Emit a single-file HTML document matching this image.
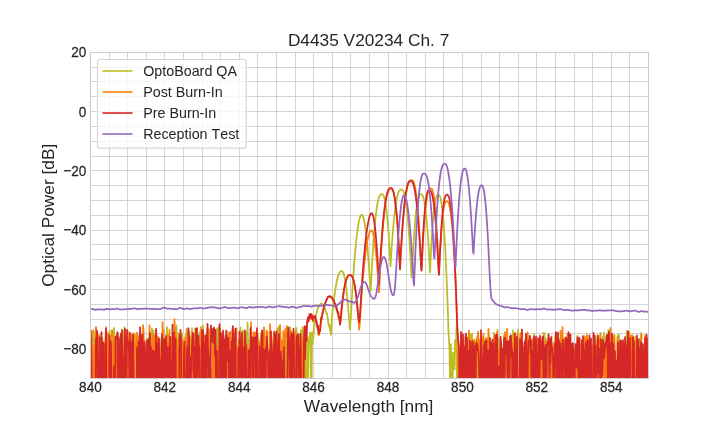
<!DOCTYPE html><html><head><meta charset="utf-8"><style>html,body{margin:0;padding:0;background:#fff}body{width:720px;height:432px;overflow:hidden;font-family:"Liberation Sans",sans-serif}</style></head><body><svg width="720" height="432" viewBox="0 0 720 432" style="display:block;will-change:transform">
<rect width="720" height="432" fill="#fff"/>
<defs><clipPath id="c"><rect x="90.5" y="52.3" width="558.0" height="326.0"/></clipPath></defs>
<path d="M90.50 52.5V378.5M109.50 52.5V378.5M127.50 52.5V378.5M146.50 52.5V378.5M164.50 52.5V378.5M183.50 52.5V378.5M202.50 52.5V378.5M220.50 52.5V378.5M239.50 52.5V378.5M257.50 52.5V378.5M276.50 52.5V378.5M295.50 52.5V378.5M313.50 52.5V378.5M332.50 52.5V378.5M350.50 52.5V378.5M369.50 52.5V378.5M388.50 52.5V378.5M406.50 52.5V378.5M425.50 52.5V378.5M443.50 52.5V378.5M462.50 52.5V378.5M481.50 52.5V378.5M499.50 52.5V378.5M518.50 52.5V378.5M536.50 52.5V378.5M555.50 52.5V378.5M574.50 52.5V378.5M592.50 52.5V378.5M611.50 52.5V378.5M629.50 52.5V378.5M648.50 52.5V378.5M90.5 52.50H648.5M90.5 67.50H648.5M90.5 81.50H648.5M90.5 96.50H648.5M90.5 111.50H648.5M90.5 126.50H648.5M90.5 141.50H648.5M90.5 156.50H648.5M90.5 170.50H648.5M90.5 185.50H648.5M90.5 200.50H648.5M90.5 215.50H648.5M90.5 230.50H648.5M90.5 244.50H648.5M90.5 259.50H648.5M90.5 274.50H648.5M90.5 289.50H648.5M90.5 304.50H648.5M90.5 319.50H648.5M90.5 333.50H648.5M90.5 348.50H648.5M90.5 363.50H648.5M90.5 378.50H648.5" stroke="#cccccc" stroke-width="0.85" fill="none"/>
<g clip-path="url(#c)" fill="none" stroke-width="1.75" stroke-linejoin="round">
<path d="M90.5 331.1L91.0 400.0L91.5 400.0L92.0 400.0L92.5 338.7L93.0 400.0L93.5 330.2L94.0 400.0L94.5 349.8L95.0 400.0L95.5 332.4L96.0 400.0L96.5 400.0L97.0 400.0L97.5 335.5L98.0 400.0L98.5 400.0L99.0 400.0L99.5 365.0L100.0 343.2L100.5 400.0L101.0 335.3L101.5 338.2L102.0 344.9L102.5 338.2L103.0 400.0L103.5 400.0L104.0 400.0L104.5 400.0L105.0 344.3L105.5 400.0L106.0 400.0L106.5 400.0L107.0 400.0L107.5 400.0L108.0 372.6L108.5 400.0L109.0 352.8L109.5 330.8L110.0 340.4L110.5 400.0L111.0 400.0L111.5 400.0L112.0 330.5L112.5 364.1L113.0 400.0L113.5 354.7L114.0 327.9L114.5 358.6L115.0 342.5L115.5 350.3L116.0 400.0L116.5 400.0L117.0 400.0L117.5 400.0L118.0 343.1L118.5 339.0L119.0 337.7L119.5 350.8L120.0 338.3L120.5 400.0L121.0 334.2L121.5 344.6L122.0 400.0L122.5 345.1L123.0 400.0L123.5 335.4L124.0 331.8L124.5 327.3L125.0 400.0L125.5 400.0L126.0 400.0L126.5 356.2L127.0 338.4L127.5 349.8L128.0 400.0L128.5 400.0L129.0 339.1L129.5 352.9L130.0 340.0L130.5 400.0L131.0 400.0L131.5 354.8L132.0 347.0L132.5 354.3L133.0 358.6L133.5 400.0L134.0 347.9L134.5 358.4L135.0 335.4L135.5 334.6L136.0 354.9L136.5 400.0L137.0 400.0L137.5 346.6L138.0 361.6L138.5 400.0L139.0 364.7L139.5 400.0L140.0 341.0L140.5 400.0L141.0 334.4L141.5 347.1L142.0 342.9L142.5 400.0L143.0 355.7L143.5 340.3L144.0 400.0L144.5 400.0L145.0 365.9L145.5 400.0L146.0 349.7L146.5 338.7L147.0 400.0L147.5 348.6L148.0 400.0L148.5 378.8L149.0 400.0L149.5 335.4L150.0 347.0L150.5 375.0L151.0 400.0L151.5 333.8L152.0 328.5L152.5 400.0L153.0 334.2L153.5 330.8L154.0 349.0L154.5 400.0L155.0 338.5L155.5 400.0L156.0 400.0L156.5 400.0L157.0 343.7L157.5 339.5L158.0 400.0L158.5 344.3L159.0 400.0L159.5 339.3L160.0 364.3L160.5 400.0L161.0 400.0L161.5 338.4L162.0 340.1L162.5 344.1L163.0 357.3L163.5 361.5L164.0 342.3L164.5 352.7L165.0 341.2L165.5 400.0L166.0 400.0L166.5 336.2L167.0 327.1L167.5 346.1L168.0 400.0L168.5 400.0L169.0 400.0L169.5 367.6L170.0 400.0L170.5 400.0L171.0 400.0L171.5 352.0L172.0 400.0L172.5 344.8L173.0 400.0L173.5 336.8L174.0 353.4L174.5 327.1L175.0 400.0L175.5 400.0L176.0 337.9L176.5 325.3L177.0 400.0L177.5 364.5L178.0 400.0L178.5 333.2L179.0 400.0L179.5 341.2L180.0 400.0L180.5 400.0L181.0 349.6L181.5 344.6L182.0 333.5L182.5 400.0L183.0 400.0L183.5 343.3L184.0 352.2L184.5 350.7L185.0 400.0L185.5 334.8L186.0 347.9L186.5 328.8L187.0 335.3L187.5 341.5L188.0 400.0L188.5 342.5L189.0 346.5L189.5 339.1L190.0 336.1L190.5 400.0L191.0 338.9L191.5 400.0L192.0 328.4L192.5 400.0L193.0 400.0L193.5 400.0L194.0 400.0L194.5 400.0L195.0 328.4L195.5 400.0L196.0 400.0L196.5 335.3L197.0 400.0L197.5 400.0L198.0 338.1L198.5 342.1L199.0 400.0L199.5 332.4L200.0 357.7L200.5 330.7L201.0 344.5L201.5 331.2L202.0 358.9L202.5 400.0L203.0 325.6L203.5 400.0L204.0 400.0L204.5 400.0L205.0 400.0L205.5 352.1L206.0 353.8L206.5 341.4L207.0 329.4L207.5 400.0L208.0 400.0L208.5 400.0L209.0 400.0L209.5 400.0L210.0 338.8L210.5 400.0L211.0 400.0L211.5 370.3L212.0 400.0L212.5 400.0L213.0 341.1L213.5 342.1L214.0 400.0L214.5 329.3L215.0 400.0L215.5 400.0L216.0 400.0L216.5 400.0L217.0 328.4L217.5 347.9L218.0 400.0L218.5 327.7L219.0 342.7L219.5 346.1L220.0 400.0L220.5 359.1L221.0 400.0L221.5 339.2L222.0 400.0L222.5 357.3L223.0 334.2L223.5 350.4L224.0 351.2L224.5 350.7L225.0 400.0L225.5 338.6L226.0 331.2L226.5 339.7L227.0 337.9L227.5 400.0L228.0 400.0L228.5 400.0L229.0 333.9L229.5 400.0L230.0 332.4L230.5 400.0L231.0 400.0L231.5 359.8L232.0 337.4L232.5 362.6L233.0 353.3L233.5 367.5L234.0 354.9L234.5 400.0L235.0 360.9L235.5 400.0L236.0 385.8L236.5 344.6L237.0 400.0L237.5 400.0L238.0 400.0L238.5 346.4L239.0 339.2L239.5 400.0L240.0 342.6L240.5 327.5L241.0 400.0L241.5 400.0L242.0 400.0L242.5 400.0L243.0 330.5L243.5 367.9L244.0 400.0L244.5 341.9L245.0 400.0L245.5 335.0L246.0 349.6L246.5 332.4L247.0 400.0L247.5 322.7L248.0 338.6L248.5 341.3L249.0 383.0L249.5 400.0L250.0 400.0L250.5 400.0L251.0 400.0L251.5 350.4L252.0 400.0L252.5 341.9L253.0 336.9L253.5 400.0L254.0 334.2L254.5 400.0L255.0 334.6L255.5 345.8L256.0 334.9L256.5 400.0L257.0 400.0L257.5 331.8L258.0 400.0L258.5 400.0L259.0 400.0L259.5 400.0L260.0 400.0L260.5 400.0L261.0 333.3L261.5 400.0L262.0 349.0L262.5 400.0L263.0 368.5L263.5 400.0L264.0 400.0L264.5 345.2L265.0 400.0L265.5 336.2L266.0 337.3L266.5 400.0L267.0 338.8L267.5 400.0L268.0 400.0L268.5 355.8L269.0 400.0L269.5 400.0L270.0 400.0L270.5 400.0L271.0 337.0L271.5 400.0L272.0 348.0L272.5 400.0L273.0 340.0L273.5 343.9L274.0 400.0L274.5 342.5L275.0 348.9L275.5 366.6L276.0 400.0L276.5 338.1L277.0 400.0L277.5 328.9L278.0 342.9L278.5 327.0L279.0 400.0L279.5 400.0L280.0 340.2L280.5 338.1L281.0 365.0L281.5 400.0L282.0 400.0L282.5 341.8L283.0 400.0L283.5 400.0L284.0 400.0L284.5 400.0L285.0 400.0L285.5 400.0L286.0 329.3L286.5 400.0L287.0 344.7L287.5 400.0L288.0 338.9L288.5 400.0L289.0 337.2L289.5 377.2L290.0 327.1L290.5 400.0L291.0 361.0L291.5 347.5L292.0 333.7L292.5 400.0L293.0 360.2L293.5 400.0L294.0 400.0L294.5 345.3L295.0 335.0L295.5 400.0L296.0 327.4L296.5 329.3L297.0 387.9L297.5 400.0L298.0 400.0L298.5 400.0L299.0 334.8L299.5 349.2L300.0 400.0L300.5 400.0L301.0 330.3L301.5 400.0L302.0 400.0L302.5 327.4L303.0 363.0L303.5 400.0L304.0 348.0L304.5 367.1L305.0 400.0L305.5 334.2L306.0 335.6L306.5 339.3L307.0 400.0L307.5 336.4L308.0 384.4L308.5 347.6L309.0 338.8L309.5 342.1L310.0 332.9L310.5 349.5L311.0 400.0L311.5 400.0L312.0 332.1L312.5 343.4L313.0 333.1L313.5 337.0L314.0 324.8L314.5 325.8L315.0 318.8L315.5 319.5L316.0 314.6L316.5 312.9L317.0 312.0L317.5 308.8L318.0 308.5L318.5 307.0L319.0 305.1L319.5 305.0L320.0 304.4L320.5 304.0L321.0 304.2L321.5 303.4L322.0 303.9L322.5 304.6L323.0 305.2L323.5 305.7L324.0 305.8L324.5 307.2L325.0 309.2L325.5 309.6L326.0 311.7L326.5 313.4L327.0 313.1L327.5 317.3L328.0 319.5L328.5 324.8L329.0 326.5L329.5 324.7L330.0 330.5L330.5 329.2L331.0 334.8L331.5 326.1L332.0 317.8L332.5 312.2L333.0 308.1L333.5 303.4L334.0 299.1L334.5 295.4L335.0 292.1L335.5 288.6L336.0 285.5L336.5 282.9L337.0 280.4L337.5 278.5L338.0 276.6L338.5 275.0L339.0 273.8L339.5 272.7L340.0 271.9L340.5 271.5L341.0 271.1L341.5 271.0L342.0 271.1L342.5 271.5L343.0 272.2L343.5 273.4L344.0 275.0L344.5 277.1L345.0 279.6L345.5 282.5L346.0 286.2L346.5 290.2L347.0 295.1L347.5 299.7L348.0 306.0L348.5 312.5L349.0 317.8L349.5 325.4L350.0 329.4L350.5 321.1L351.0 315.0L351.5 305.3L352.0 296.3L352.5 288.4L353.0 280.7L353.5 273.3L354.0 266.4L354.5 259.9L355.0 253.9L355.5 248.3L356.0 243.1L356.5 238.3L357.0 234.0L357.5 230.2L358.0 226.7L358.5 223.7L359.0 221.1L359.5 219.0L360.0 217.3L360.5 216.1L361.0 215.2L361.5 214.8L362.0 214.9L362.5 215.4L363.0 216.5L363.5 218.0L364.0 220.1L364.5 222.6L365.0 225.6L365.5 229.1L366.0 233.2L366.5 237.7L367.0 242.7L367.5 248.2L368.0 254.2L368.5 260.7L369.0 267.7L369.5 275.3L370.0 283.2L370.5 291.6L371.0 285.0L371.5 274.9L372.0 265.6L372.5 256.9L373.0 248.8L373.5 241.5L374.0 234.7L374.5 228.6L375.0 223.0L375.5 218.0L376.0 213.6L376.5 209.7L377.0 206.3L377.5 203.4L378.0 200.9L378.5 198.9L379.0 197.3L379.5 196.1L380.0 195.2L380.5 194.6L381.0 194.3L381.5 194.2L382.0 194.2L382.5 194.4L383.0 194.9L383.5 195.7L384.0 196.9L384.5 198.6L385.0 200.7L385.5 203.4L386.0 206.7L386.5 210.5L387.0 215.0L387.5 220.2L388.0 226.0L388.5 232.5L389.0 239.8L389.5 247.9L390.0 256.7L390.5 266.3L391.0 257.9L391.5 250.0L392.0 242.7L392.5 236.0L393.0 229.8L393.5 224.1L394.0 218.9L394.5 214.2L395.0 210.0L395.5 206.2L396.0 202.9L396.5 200.0L397.0 197.5L397.5 195.4L398.0 193.7L398.5 192.3L399.0 191.2L399.5 190.5L400.0 189.9L400.5 189.6L401.0 189.5L401.5 189.5L402.0 189.6L402.5 190.0L403.0 190.6L403.5 191.5L404.0 192.9L404.5 194.6L405.0 196.8L405.5 199.5L406.0 202.7L406.5 206.4L407.0 210.6L407.5 215.4L408.0 220.9L408.5 226.9L409.0 233.6L409.5 241.0L410.0 249.0L410.5 257.7L411.0 267.1L411.5 277.4L412.0 274.7L412.5 264.0L413.0 254.1L413.5 245.1L414.0 237.0L414.5 229.7L415.0 223.2L415.5 217.4L416.0 212.4L416.5 208.1L417.0 204.5L417.5 201.5L418.0 199.1L418.5 197.2L419.0 195.8L419.5 194.9L420.0 194.4L420.5 194.2L421.0 194.2L421.5 194.3L422.0 194.7L422.5 195.5L423.0 196.6L423.5 198.1L424.0 200.1L424.5 202.6L425.0 205.7L425.5 209.3L426.0 213.6L426.5 218.5L427.0 224.0L427.5 230.3L428.0 237.2L428.5 244.9L429.0 253.3L429.5 262.6L430.0 272.6L430.5 261.5L431.0 251.4L431.5 242.2L432.0 234.0L432.5 226.7L433.0 220.3L433.5 214.7L434.0 209.9L434.5 205.9L435.0 202.6L435.5 199.9L436.0 197.9L436.5 196.4L437.0 195.5L437.5 195.0L438.0 194.8L438.5 194.8L439.0 195.1L439.5 195.7L440.0 196.7L440.5 198.3L441.0 200.5L441.5 203.3L442.0 206.8L442.5 211.0L443.0 216.0L443.5 221.8L444.0 228.5L444.5 236.1L445.0 244.5L445.5 254.0L446.0 264.5L446.5 275.8L447.0 288.3L447.5 301.7L448.0 314.6L448.5 332.5L449.0 338.8L449.5 350.4L450.0 381.4L450.5 400.0L451.0 344.1L451.5 400.0L452.0 362.0L452.5 400.0L453.0 352.9L453.5 357.4L454.0 360.0L454.5 369.4L455.0 340.5L455.5 341.1L456.0 343.5L456.5 326.8L457.0 400.0L457.5 400.0L458.0 400.0L458.5 346.5L459.0 400.0L459.5 400.0L460.0 400.0L460.5 355.2L461.0 339.0L461.5 400.0L462.0 400.0L462.5 366.0L463.0 400.0L463.5 344.9L464.0 357.8L464.5 348.6L465.0 400.0L465.5 334.7L466.0 358.0L466.5 336.5L467.0 400.0L467.5 344.0L468.0 400.0L468.5 400.0L469.0 400.0L469.5 360.1L470.0 374.8L470.5 334.7L471.0 400.0L471.5 400.0L472.0 333.6L472.5 343.8L473.0 400.0L473.5 345.5L474.0 350.5L474.5 400.0L475.0 400.0L475.5 358.8L476.0 342.2L476.5 339.6L477.0 354.5L477.5 338.9L478.0 366.7L478.5 400.0L479.0 400.0L479.5 344.8L480.0 400.0L480.5 342.9L481.0 400.0L481.5 400.0L482.0 345.4L482.5 337.2L483.0 400.0L483.5 400.0L484.0 356.1L484.5 400.0L485.0 340.7L485.5 400.0L486.0 347.9L486.5 346.7L487.0 356.2L487.5 338.3L488.0 400.0L488.5 338.2L489.0 400.0L489.5 342.3L490.0 400.0L490.5 341.2L491.0 341.6L491.5 400.0L492.0 367.5L492.5 362.9L493.0 378.4L493.5 400.0L494.0 332.8L494.5 351.4L495.0 334.7L495.5 400.0L496.0 400.0L496.5 353.5L497.0 400.0L497.5 329.9L498.0 350.5L498.5 337.9L499.0 375.9L499.5 400.0L500.0 359.6L500.5 348.1L501.0 340.9L501.5 364.9L502.0 400.0L502.5 400.0L503.0 362.0L503.5 344.5L504.0 346.3L504.5 359.0L505.0 400.0L505.5 353.1L506.0 344.5L506.5 359.9L507.0 354.1L507.5 367.2L508.0 340.2L508.5 400.0L509.0 352.1L509.5 347.5L510.0 342.4L510.5 335.2L511.0 343.1L511.5 344.1L512.0 400.0L512.5 344.0L513.0 330.5L513.5 400.0L514.0 400.0L514.5 374.5L515.0 339.2L515.5 345.3L516.0 400.0L516.5 359.9L517.0 339.1L517.5 343.2L518.0 329.9L518.5 339.4L519.0 348.3L519.5 344.0L520.0 400.0L520.5 400.0L521.0 352.5L521.5 345.9L522.0 400.0L522.5 400.0L523.0 400.0L523.5 350.2L524.0 384.4L524.5 346.6L525.0 354.7L525.5 338.9L526.0 400.0L526.5 334.2L527.0 335.9L527.5 356.4L528.0 343.5L528.5 344.1L529.0 400.0L529.5 352.8L530.0 341.9L530.5 349.3L531.0 339.0L531.5 354.9L532.0 355.3L532.5 400.0L533.0 400.0L533.5 400.0L534.0 334.0L534.5 350.8L535.0 400.0L535.5 347.5L536.0 371.6L536.5 400.0L537.0 346.1L537.5 400.0L538.0 344.6L538.5 400.0L539.0 400.0L539.5 345.9L540.0 400.0L540.5 400.0L541.0 351.8L541.5 344.1L542.0 342.4L542.5 360.1L543.0 400.0L543.5 332.7L544.0 400.0L544.5 333.4L545.0 400.0L545.5 338.1L546.0 338.9L546.5 400.0L547.0 348.4L547.5 342.3L548.0 343.0L548.5 372.5L549.0 349.5L549.5 400.0L550.0 400.0L550.5 339.8L551.0 400.0L551.5 336.3L552.0 344.3L552.5 400.0L553.0 368.4L553.5 398.3L554.0 400.0L554.5 345.9L555.0 400.0L555.5 334.6L556.0 341.1L556.5 400.0L557.0 359.4L557.5 376.7L558.0 400.0L558.5 340.4L559.0 340.2L559.5 340.5L560.0 400.0L560.5 339.0L561.0 374.0L561.5 340.4L562.0 333.5L562.5 353.7L563.0 400.0L563.5 400.0L564.0 343.9L564.5 337.7L565.0 400.0L565.5 371.6L566.0 351.2L566.5 347.1L567.0 340.7L567.5 400.0L568.0 400.0L568.5 339.7L569.0 347.9L569.5 346.9L570.0 338.6L570.5 354.8L571.0 345.6L571.5 400.0L572.0 400.0L572.5 400.0L573.0 355.8L573.5 372.7L574.0 400.0L574.5 349.4L575.0 400.0L575.5 354.6L576.0 359.5L576.5 400.0L577.0 400.0L577.5 335.9L578.0 349.4L578.5 400.0L579.0 400.0L579.5 347.9L580.0 377.1L580.5 344.8L581.0 400.0L581.5 352.8L582.0 361.2L582.5 370.8L583.0 375.9L583.5 352.2L584.0 340.5L584.5 400.0L585.0 400.0L585.5 353.2L586.0 365.3L586.5 348.1L587.0 343.0L587.5 337.3L588.0 365.1L588.5 400.0L589.0 362.2L589.5 348.7L590.0 371.3L590.5 368.0L591.0 400.0L591.5 346.0L592.0 400.0L592.5 400.0L593.0 400.0L593.5 400.0L594.0 344.5L594.5 345.2L595.0 335.6L595.5 344.0L596.0 400.0L596.5 400.0L597.0 338.7L597.5 335.3L598.0 379.1L598.5 345.3L599.0 400.0L599.5 400.0L600.0 400.0L600.5 400.0L601.0 400.0L601.5 377.6L602.0 400.0L602.5 343.6L603.0 336.3L603.5 357.4L604.0 332.5L604.5 400.0L605.0 400.0L605.5 348.2L606.0 400.0L606.5 338.3L607.0 400.0L607.5 337.1L608.0 352.4L608.5 329.8L609.0 400.0L609.5 373.4L610.0 353.8L610.5 400.0L611.0 344.7L611.5 346.6L612.0 354.9L612.5 400.0L613.0 400.0L613.5 345.0L614.0 338.4L614.5 335.2L615.0 400.0L615.5 400.0L616.0 389.4L616.5 400.0L617.0 400.0L617.5 341.6L618.0 334.9L618.5 350.5L619.0 334.9L619.5 347.8L620.0 352.6L620.5 369.9L621.0 352.7L621.5 383.3L622.0 367.1L622.5 400.0L623.0 351.0L623.5 358.4L624.0 400.0L624.5 379.8L625.0 400.0L625.5 400.0L626.0 346.6L626.5 335.5L627.0 330.9L627.5 335.5L628.0 400.0L628.5 338.5L629.0 339.0L629.5 400.0L630.0 341.6L630.5 344.5L631.0 353.4L631.5 350.3L632.0 356.7L632.5 335.1L633.0 400.0L633.5 373.2L634.0 358.7L634.5 350.6L635.0 400.0L635.5 336.8L636.0 351.8L636.5 345.4L637.0 352.5L637.5 371.6L638.0 400.0L638.5 355.5L639.0 353.8L639.5 338.7L640.0 349.2L640.5 366.7L641.0 332.9L641.5 400.0L642.0 400.0L642.5 349.0L643.0 374.9L643.5 400.0L644.0 400.0L644.5 400.0L645.0 339.0L645.5 400.0L646.0 339.7L646.5 347.2L647.0 374.1L647.5 358.2L648.0 347.7L648.5 400.0" stroke="#bcbd22"/>
<path d="M90.5 400.0L91.0 386.1L91.5 400.0L92.0 331.0L92.5 400.0L93.0 400.0L93.5 344.9L94.0 400.0L94.5 400.0L95.0 400.0L95.5 343.9L96.0 326.9L96.5 365.1L97.0 400.0L97.5 344.1L98.0 400.0L98.5 374.0L99.0 335.0L99.5 400.0L100.0 369.1L100.5 400.0L101.0 400.0L101.5 352.0L102.0 400.0L102.5 400.0L103.0 400.0L103.5 400.0L104.0 400.0L104.5 400.0L105.0 400.0L105.5 400.0L106.0 327.1L106.5 400.0L107.0 359.1L107.5 348.2L108.0 333.2L108.5 344.9L109.0 400.0L109.5 370.4L110.0 344.0L110.5 400.0L111.0 340.0L111.5 400.0L112.0 330.3L112.5 332.3L113.0 400.0L113.5 342.6L114.0 364.4L114.5 400.0L115.0 360.9L115.5 336.9L116.0 400.0L116.5 400.0L117.0 400.0L117.5 346.5L118.0 333.9L118.5 400.0L119.0 344.7L119.5 353.5L120.0 400.0L120.5 400.0L121.0 400.0L121.5 379.2L122.0 349.5L122.5 400.0L123.0 364.5L123.5 400.0L124.0 400.0L124.5 344.3L125.0 340.5L125.5 400.0L126.0 338.9L126.5 400.0L127.0 362.6L127.5 400.0L128.0 331.3L128.5 400.0L129.0 400.0L129.5 341.1L130.0 400.0L130.5 400.0L131.0 400.0L131.5 339.1L132.0 334.2L132.5 400.0L133.0 400.0L133.5 333.1L134.0 334.5L134.5 400.0L135.0 348.6L135.5 347.7L136.0 343.4L136.5 354.0L137.0 332.7L137.5 400.0L138.0 336.3L138.5 347.8L139.0 400.0L139.5 334.9L140.0 400.0L140.5 335.0L141.0 347.6L141.5 400.0L142.0 346.4L142.5 400.0L143.0 325.2L143.5 329.4L144.0 346.2L144.5 400.0L145.0 400.0L145.5 400.0L146.0 400.0L146.5 400.0L147.0 400.0L147.5 400.0L148.0 400.0L148.5 400.0L149.0 400.0L149.5 325.3L150.0 400.0L150.5 400.0L151.0 346.3L151.5 400.0L152.0 346.6L152.5 339.4L153.0 333.9L153.5 340.1L154.0 400.0L154.5 335.5L155.0 400.0L155.5 400.0L156.0 400.0L156.5 400.0L157.0 342.8L157.5 400.0L158.0 336.5L158.5 400.0L159.0 338.7L159.5 344.8L160.0 358.0L160.5 400.0L161.0 400.0L161.5 400.0L162.0 400.0L162.5 322.1L163.0 337.1L163.5 329.6L164.0 400.0L164.5 340.9L165.0 340.9L165.5 342.6L166.0 369.6L166.5 400.0L167.0 400.0L167.5 342.4L168.0 346.5L168.5 335.3L169.0 400.0L169.5 329.9L170.0 400.0L170.5 400.0L171.0 337.4L171.5 400.0L172.0 400.0L172.5 358.1L173.0 339.9L173.5 352.3L174.0 344.7L174.5 319.2L175.0 339.0L175.5 331.5L176.0 400.0L176.5 348.1L177.0 339.7L177.5 400.0L178.0 400.0L178.5 347.2L179.0 400.0L179.5 400.0L180.0 335.0L180.5 333.1L181.0 350.0L181.5 400.0L182.0 344.3L182.5 338.8L183.0 342.0L183.5 400.0L184.0 400.0L184.5 348.2L185.0 342.2L185.5 337.1L186.0 339.9L186.5 400.0L187.0 400.0L187.5 400.0L188.0 329.4L188.5 354.9L189.0 343.5L189.5 336.2L190.0 400.0L190.5 400.0L191.0 400.0L191.5 400.0L192.0 331.7L192.5 338.2L193.0 400.0L193.5 341.4L194.0 340.2L194.5 400.0L195.0 400.0L195.5 400.0L196.0 349.0L196.5 400.0L197.0 400.0L197.5 400.0L198.0 352.2L198.5 400.0L199.0 350.0L199.5 343.4L200.0 400.0L200.5 400.0L201.0 327.2L201.5 358.2L202.0 400.0L202.5 362.8L203.0 400.0L203.5 335.0L204.0 347.8L204.5 335.5L205.0 337.8L205.5 347.2L206.0 336.8L206.5 354.3L207.0 400.0L207.5 400.0L208.0 400.0L208.5 400.0L209.0 329.2L209.5 400.0L210.0 400.0L210.5 400.0L211.0 400.0L211.5 400.0L212.0 400.0L212.5 400.0L213.0 343.5L213.5 400.0L214.0 347.5L214.5 344.2L215.0 400.0L215.5 400.0L216.0 343.7L216.5 363.0L217.0 355.9L217.5 400.0L218.0 362.9L218.5 347.6L219.0 400.0L219.5 348.8L220.0 328.6L220.5 360.6L221.0 341.2L221.5 400.0L222.0 400.0L222.5 400.0L223.0 400.0L223.5 371.2L224.0 400.0L224.5 400.0L225.0 400.0L225.5 400.0L226.0 400.0L226.5 400.0L227.0 400.0L227.5 400.0L228.0 400.0L228.5 335.9L229.0 332.6L229.5 340.2L230.0 400.0L230.5 331.6L231.0 400.0L231.5 400.0L232.0 351.0L232.5 370.3L233.0 400.0L233.5 365.5L234.0 400.0L234.5 400.0L235.0 333.9L235.5 336.1L236.0 400.0L236.5 328.4L237.0 400.0L237.5 400.0L238.0 350.1L238.5 400.0L239.0 400.0L239.5 400.0L240.0 400.0L240.5 338.0L241.0 342.5L241.5 400.0L242.0 400.0L242.5 354.7L243.0 393.2L243.5 400.0L244.0 346.2L244.5 338.7L245.0 400.0L245.5 339.2L246.0 400.0L246.5 400.0L247.0 344.4L247.5 400.0L248.0 400.0L248.5 400.0L249.0 400.0L249.5 348.9L250.0 400.0L250.5 400.0L251.0 322.2L251.5 358.7L252.0 400.0L252.5 342.3L253.0 343.3L253.5 332.4L254.0 356.3L254.5 400.0L255.0 332.2L255.5 340.3L256.0 400.0L256.5 339.7L257.0 400.0L257.5 335.1L258.0 400.0L258.5 339.1L259.0 354.0L259.5 342.5L260.0 373.6L260.5 400.0L261.0 361.9L261.5 341.7L262.0 346.3L262.5 330.5L263.0 346.1L263.5 341.6L264.0 327.2L264.5 362.0L265.0 343.5L265.5 400.0L266.0 364.3L266.5 330.3L267.0 349.3L267.5 331.8L268.0 400.0L268.5 400.0L269.0 349.5L269.5 400.0L270.0 324.2L270.5 333.6L271.0 400.0L271.5 400.0L272.0 400.0L272.5 346.3L273.0 386.3L273.5 337.1L274.0 331.6L274.5 400.0L275.0 400.0L275.5 342.9L276.0 400.0L276.5 334.6L277.0 400.0L277.5 338.4L278.0 348.5L278.5 400.0L279.0 400.0L279.5 340.2L280.0 324.9L280.5 338.3L281.0 400.0L281.5 340.3L282.0 358.3L282.5 400.0L283.0 349.3L283.5 330.9L284.0 400.0L284.5 400.0L285.0 344.5L285.5 328.9L286.0 336.9L286.5 336.0L287.0 326.0L287.5 330.3L288.0 340.2L288.5 400.0L289.0 356.8L289.5 400.0L290.0 338.1L290.5 400.0L291.0 330.9L291.5 356.3L292.0 400.0L292.5 338.6L293.0 400.0L293.5 400.0L294.0 400.0L294.5 338.5L295.0 400.0L295.5 331.9L296.0 400.0L296.5 343.7L297.0 400.0L297.5 334.4L298.0 400.0L298.5 343.7L299.0 400.0L299.5 400.0L300.0 400.0L300.5 335.0L301.0 400.0L301.5 400.0L302.0 400.0L302.5 339.0L303.0 400.0L303.5 400.0L304.0 354.2L304.5 353.0L305.0 337.6L305.5 328.2L306.0 334.7L306.5 330.0L307.0 321.5L307.5 320.3L308.0 320.2L308.5 319.8L309.0 320.0L309.5 313.8L310.0 317.4L310.5 316.2L311.0 316.0L311.5 319.2L312.0 316.3L312.5 318.4L313.0 321.6L313.5 317.7L314.0 319.2L314.5 318.0L315.0 317.5L315.5 315.9L316.0 322.0L316.5 323.4L317.0 324.3L317.5 326.7L318.0 329.5L318.5 334.8L319.0 335.2L319.5 330.6L320.0 330.3L320.5 325.3L321.0 323.4L321.5 316.9L322.0 317.6L322.5 311.8L323.0 311.7L323.5 309.8L324.0 307.8L324.5 305.0L325.0 303.3L325.5 302.5L326.0 300.8L326.5 299.8L327.0 298.8L327.5 297.8L328.0 297.0L328.5 297.2L329.0 297.0L329.5 296.2L330.0 296.4L330.5 296.4L331.0 297.4L331.5 297.8L332.0 297.7L332.5 299.3L333.0 299.6L333.5 301.1L334.0 302.1L334.5 303.7L335.0 304.0L335.5 307.0L336.0 308.3L336.5 309.9L337.0 310.2L337.5 312.8L338.0 314.4L338.5 317.2L339.0 319.1L339.5 321.0L340.0 321.3L340.5 322.8L341.0 319.4L341.5 310.9L342.0 306.7L342.5 302.6L343.0 298.0L343.5 294.3L344.0 290.4L344.5 287.7L345.0 285.3L345.5 282.7L346.0 280.9L346.5 279.1L347.0 277.9L347.5 276.9L348.0 276.1L348.5 275.6L349.0 275.2L349.5 275.1L350.0 275.1L350.5 275.0L351.0 275.3L351.5 275.7L352.0 276.3L352.5 277.2L353.0 278.6L353.5 280.1L354.0 282.4L354.5 284.6L355.0 287.6L355.5 290.9L356.0 294.8L356.5 299.1L357.0 303.8L357.5 309.1L358.0 314.3L358.5 317.6L359.0 329.8L359.5 326.3L360.0 320.6L360.5 312.5L361.0 302.7L361.5 296.7L362.0 289.9L362.5 283.6L363.0 277.6L363.5 272.1L364.0 266.9L364.5 262.1L365.0 257.6L365.5 253.4L366.0 249.6L366.5 246.2L367.0 243.0L367.5 240.2L368.0 237.8L368.5 235.7L369.0 233.9L369.5 232.5L370.0 231.5L370.5 230.7L371.0 230.4L371.5 230.3L372.0 230.8L372.5 231.8L373.0 233.3L373.5 235.4L374.0 238.0L374.5 241.0L375.0 244.7L375.5 248.8L376.0 253.5L376.5 258.7L377.0 264.4L377.5 270.6L378.0 277.4L378.5 284.7L379.0 292.5L379.5 282.1L380.0 272.2L380.5 263.0L381.0 254.5L381.5 246.5L382.0 239.2L382.5 232.4L383.0 226.2L383.5 220.6L384.0 215.5L384.5 210.9L385.0 206.8L385.5 203.1L386.0 200.0L386.5 197.3L387.0 195.0L387.5 193.1L388.0 191.6L388.5 190.4L389.0 189.5L389.5 189.0L390.0 188.6L390.5 188.5L391.0 188.5L391.5 188.6L392.0 189.0L392.5 189.8L393.0 190.9L393.5 192.4L394.0 194.4L394.5 196.9L395.0 200.0L395.5 203.6L396.0 207.9L396.5 212.8L397.0 218.3L397.5 224.6L398.0 231.6L398.5 239.3L399.0 247.7L399.5 256.9L400.0 267.0L400.5 258.1L401.0 249.8L401.5 242.0L402.0 234.7L402.5 228.0L403.0 221.8L403.5 216.1L404.0 210.9L404.5 206.1L405.0 201.9L405.5 198.0L406.0 194.6L406.5 191.6L407.0 189.0L407.5 186.8L408.0 184.9L408.5 183.4L409.0 182.2L409.5 181.3L410.0 180.7L410.5 180.3L411.0 180.1L411.5 180.0L412.0 180.0L412.5 180.3L413.0 180.8L413.5 181.7L414.0 182.9L414.5 184.7L415.0 186.9L415.5 189.7L416.0 193.0L416.5 196.9L417.0 201.5L417.5 206.7L418.0 212.5L418.5 219.1L419.0 226.4L419.5 234.5L420.0 243.3L420.5 253.0L421.0 263.4L421.5 270.2L422.0 259.8L422.5 250.3L423.0 241.5L423.5 233.6L424.0 226.3L424.5 219.9L425.0 214.1L425.5 209.0L426.0 204.5L426.5 200.7L427.0 197.4L427.5 194.8L428.0 192.6L428.5 191.0L429.0 189.8L429.5 189.0L430.0 188.5L430.5 188.3L431.0 188.3L431.5 188.5L432.0 189.1L432.5 190.2L433.0 191.9L433.5 194.3L434.0 197.4L434.5 201.3L435.0 206.0L435.5 211.6L436.0 218.1L436.5 225.6L437.0 234.2L437.5 243.8L438.0 254.5L438.5 266.3L439.0 274.2L439.5 263.2L440.0 253.2L440.5 244.2L441.0 236.2L441.5 229.2L442.0 223.1L442.5 217.8L443.0 213.4L443.5 209.8L444.0 206.9L444.5 204.7L445.0 203.1L445.5 202.1L446.0 201.5L446.5 201.3L447.0 201.3L447.5 201.5L448.0 202.0L448.5 203.0L449.0 204.3L449.5 206.2L450.0 208.6L450.5 211.7L451.0 215.4L451.5 219.7L452.0 224.8L452.5 230.6L453.0 237.1L453.5 244.5L454.0 252.7L454.5 261.8L455.0 271.7L455.5 282.5L456.0 294.3L456.5 306.5L457.0 322.6L457.5 329.3L458.0 346.7L458.5 400.0L459.0 393.0L459.5 354.9L460.0 400.0L460.5 342.4L461.0 400.0L461.5 346.5L462.0 400.0L462.5 349.3L463.0 342.4L463.5 400.0L464.0 374.1L464.5 400.0L465.0 348.8L465.5 357.6L466.0 345.7L466.5 362.0L467.0 400.0L467.5 400.0L468.0 400.0L468.5 346.4L469.0 330.5L469.5 340.7L470.0 400.0L470.5 400.0L471.0 345.5L471.5 358.1L472.0 400.0L472.5 340.4L473.0 358.5L473.5 400.0L474.0 400.0L474.5 339.7L475.0 356.0L475.5 386.1L476.0 400.0L476.5 400.0L477.0 337.2L477.5 345.3L478.0 331.9L478.5 338.7L479.0 348.5L479.5 340.4L480.0 352.9L480.5 400.0L481.0 400.0L481.5 348.7L482.0 400.0L482.5 400.0L483.0 400.0L483.5 333.8L484.0 400.0L484.5 400.0L485.0 400.0L485.5 339.6L486.0 338.1L486.5 400.0L487.0 344.5L487.5 400.0L488.0 358.5L488.5 328.9L489.0 339.9L489.5 360.5L490.0 400.0L490.5 400.0L491.0 400.0L491.5 400.0L492.0 344.0L492.5 344.4L493.0 351.7L493.5 339.3L494.0 400.0L494.5 335.9L495.0 400.0L495.5 347.7L496.0 346.4L496.5 338.6L497.0 332.0L497.5 348.3L498.0 400.0L498.5 400.0L499.0 350.2L499.5 400.0L500.0 400.0L500.5 372.7L501.0 343.1L501.5 400.0L502.0 400.0L502.5 353.2L503.0 400.0L503.5 400.0L504.0 335.5L504.5 350.6L505.0 332.1L505.5 400.0L506.0 339.0L506.5 369.7L507.0 328.7L507.5 374.5L508.0 400.0L508.5 346.9L509.0 352.0L509.5 400.0L510.0 340.3L510.5 342.9L511.0 340.6L511.5 347.4L512.0 400.0L512.5 400.0L513.0 344.2L513.5 400.0L514.0 333.9L514.5 357.0L515.0 400.0L515.5 339.1L516.0 359.2L516.5 337.6L517.0 351.4L517.5 333.5L518.0 400.0L518.5 400.0L519.0 400.0L519.5 400.0L520.0 344.3L520.5 333.2L521.0 371.8L521.5 400.0L522.0 343.1L522.5 346.5L523.0 400.0L523.5 347.3L524.0 358.1L524.5 400.0L525.0 343.0L525.5 400.0L526.0 400.0L526.5 378.3L527.0 334.8L527.5 332.4L528.0 336.0L528.5 400.0L529.0 400.0L529.5 348.6L530.0 368.4L530.5 353.5L531.0 400.0L531.5 400.0L532.0 400.0L532.5 342.0L533.0 338.9L533.5 400.0L534.0 344.5L534.5 343.7L535.0 400.0L535.5 358.0L536.0 341.5L536.5 400.0L537.0 337.3L537.5 373.4L538.0 356.1L538.5 380.1L539.0 400.0L539.5 348.7L540.0 358.7L540.5 400.0L541.0 375.5L541.5 347.2L542.0 367.2L542.5 400.0L543.0 355.4L543.5 342.3L544.0 357.0L544.5 400.0L545.0 341.4L545.5 400.0L546.0 344.6L546.5 367.1L547.0 400.0L547.5 400.0L548.0 400.0L548.5 378.0L549.0 400.0L549.5 347.9L550.0 338.7L550.5 379.7L551.0 400.0L551.5 400.0L552.0 351.3L552.5 347.4L553.0 356.3L553.5 343.1L554.0 400.0L554.5 382.3L555.0 350.2L555.5 376.6L556.0 346.1L556.5 346.0L557.0 389.0L557.5 400.0L558.0 400.0L558.5 338.8L559.0 400.0L559.5 356.2L560.0 400.0L560.5 330.7L561.0 400.0L561.5 344.0L562.0 400.0L562.5 327.0L563.0 400.0L563.5 348.5L564.0 400.0L564.5 341.7L565.0 400.0L565.5 400.0L566.0 400.0L566.5 400.0L567.0 358.6L567.5 333.9L568.0 400.0L568.5 345.3L569.0 356.9L569.5 400.0L570.0 374.4L570.5 347.9L571.0 360.4L571.5 360.7L572.0 400.0L572.5 400.0L573.0 346.3L573.5 400.0L574.0 400.0L574.5 355.8L575.0 349.2L575.5 348.0L576.0 373.1L576.5 400.0L577.0 342.4L577.5 339.8L578.0 338.0L578.5 348.9L579.0 341.5L579.5 400.0L580.0 400.0L580.5 370.0L581.0 381.7L581.5 339.9L582.0 342.1L582.5 400.0L583.0 400.0L583.5 361.2L584.0 356.3L584.5 336.4L585.0 400.0L585.5 337.4L586.0 400.0L586.5 400.0L587.0 334.7L587.5 348.3L588.0 355.6L588.5 345.1L589.0 378.3L589.5 357.3L590.0 352.3L590.5 352.2L591.0 349.1L591.5 400.0L592.0 349.1L592.5 400.0L593.0 345.2L593.5 371.5L594.0 351.6L594.5 350.9L595.0 400.0L595.5 400.0L596.0 369.0L596.5 347.4L597.0 340.8L597.5 362.5L598.0 400.0L598.5 351.8L599.0 360.8L599.5 343.0L600.0 338.3L600.5 333.1L601.0 400.0L601.5 400.0L602.0 363.8L602.5 342.7L603.0 344.0L603.5 357.4L604.0 342.8L604.5 400.0L605.0 400.0L605.5 350.4L606.0 400.0L606.5 335.5L607.0 400.0L607.5 400.0L608.0 350.0L608.5 400.0L609.0 400.0L609.5 371.3L610.0 337.7L610.5 328.0L611.0 353.6L611.5 400.0L612.0 351.3L612.5 344.2L613.0 400.0L613.5 349.4L614.0 335.5L614.5 346.8L615.0 400.0L615.5 400.0L616.0 400.0L616.5 400.0L617.0 400.0L617.5 336.9L618.0 400.0L618.5 400.0L619.0 353.0L619.5 345.2L620.0 400.0L620.5 353.0L621.0 344.2L621.5 343.2L622.0 349.0L622.5 346.0L623.0 400.0L623.5 342.5L624.0 354.6L624.5 400.0L625.0 400.0L625.5 400.0L626.0 400.0L626.5 370.8L627.0 400.0L627.5 400.0L628.0 332.1L628.5 348.8L629.0 331.8L629.5 400.0L630.0 335.4L630.5 367.7L631.0 335.7L631.5 341.2L632.0 343.0L632.5 372.3L633.0 352.4L633.5 337.4L634.0 400.0L634.5 400.0L635.0 400.0L635.5 400.0L636.0 344.9L636.5 342.1L637.0 374.5L637.5 339.1L638.0 400.0L638.5 400.0L639.0 354.9L639.5 348.3L640.0 367.0L640.5 400.0L641.0 345.5L641.5 334.7L642.0 400.0L642.5 358.2L643.0 400.0L643.5 359.5L644.0 400.0L644.5 353.4L645.0 335.7L645.5 346.2L646.0 400.0L646.5 342.4L647.0 400.0L647.5 338.4L648.0 350.3L648.5 400.0" stroke="#ff7f0e"/>
<path d="M90.5 329.9L91.0 346.5L91.5 360.3L92.0 400.0L92.5 400.0L93.0 400.0L93.5 400.0L94.0 400.0L94.5 380.7L95.0 400.0L95.5 400.0L96.0 338.4L96.5 338.5L97.0 330.5L97.5 364.2L98.0 400.0L98.5 400.0L99.0 400.0L99.5 337.2L100.0 400.0L100.5 400.0L101.0 400.0L101.5 332.2L102.0 352.7L102.5 400.0L103.0 400.0L103.5 342.4L104.0 400.0L104.5 400.0L105.0 400.0L105.5 340.4L106.0 328.7L106.5 400.0L107.0 400.0L107.5 400.0L108.0 400.0L108.5 400.0L109.0 400.0L109.5 335.5L110.0 400.0L110.5 400.0L111.0 342.0L111.5 400.0L112.0 400.0L112.5 400.0L113.0 400.0L113.5 400.0L114.0 366.3L114.5 400.0L115.0 400.0L115.5 336.7L116.0 338.8L116.5 335.7L117.0 335.5L117.5 332.1L118.0 400.0L118.5 338.9L119.0 400.0L119.5 400.0L120.0 400.0L120.5 336.3L121.0 333.4L121.5 400.0L122.0 329.9L122.5 400.0L123.0 356.7L123.5 356.6L124.0 400.0L124.5 346.3L125.0 328.8L125.5 400.0L126.0 338.1L126.5 400.0L127.0 329.9L127.5 345.2L128.0 341.4L128.5 342.0L129.0 352.1L129.5 400.0L130.0 332.9L130.5 400.0L131.0 352.5L131.5 342.5L132.0 400.0L132.5 357.0L133.0 335.0L133.5 374.9L134.0 400.0L134.5 400.0L135.0 400.0L135.5 400.0L136.0 400.0L136.5 400.0L137.0 347.9L137.5 400.0L138.0 400.0L138.5 341.3L139.0 400.0L139.5 400.0L140.0 327.4L140.5 338.4L141.0 400.0L141.5 400.0L142.0 343.4L142.5 334.3L143.0 356.7L143.5 400.0L144.0 400.0L144.5 341.9L145.0 349.8L145.5 400.0L146.0 400.0L146.5 400.0L147.0 340.6L147.5 400.0L148.0 345.1L148.5 338.7L149.0 345.1L149.5 400.0L150.0 333.2L150.5 400.0L151.0 346.5L151.5 400.0L152.0 400.0L152.5 353.0L153.0 350.6L153.5 400.0L154.0 351.0L154.5 400.0L155.0 400.0L155.5 400.0L156.0 328.9L156.5 339.2L157.0 400.0L157.5 343.5L158.0 400.0L158.5 400.0L159.0 338.5L159.5 400.0L160.0 400.0L160.5 400.0L161.0 360.6L161.5 357.9L162.0 334.1L162.5 400.0L163.0 340.4L163.5 346.5L164.0 400.0L164.5 338.8L165.0 344.9L165.5 400.0L166.0 335.9L166.5 400.0L167.0 363.0L167.5 369.8L168.0 346.5L168.5 400.0L169.0 377.6L169.5 400.0L170.0 336.7L170.5 400.0L171.0 361.8L171.5 400.0L172.0 400.0L172.5 324.6L173.0 398.6L173.5 400.0L174.0 332.5L174.5 400.0L175.0 347.9L175.5 338.4L176.0 400.0L176.5 400.0L177.0 400.0L177.5 400.0L178.0 400.0L178.5 400.0L179.0 400.0L179.5 336.2L180.0 342.0L180.5 330.0L181.0 340.9L181.5 400.0L182.0 400.0L182.5 400.0L183.0 400.0L183.5 400.0L184.0 351.1L184.5 341.7L185.0 400.0L185.5 400.0L186.0 400.0L186.5 400.0L187.0 351.9L187.5 345.9L188.0 400.0L188.5 328.2L189.0 334.5L189.5 400.0L190.0 400.0L190.5 400.0L191.0 356.4L191.5 373.5L192.0 345.0L192.5 339.7L193.0 332.8L193.5 334.9L194.0 400.0L194.5 347.3L195.0 400.0L195.5 400.0L196.0 328.7L196.5 400.0L197.0 328.2L197.5 400.0L198.0 351.7L198.5 335.5L199.0 366.7L199.5 347.2L200.0 400.0L200.5 400.0L201.0 400.0L201.5 400.0L202.0 330.6L202.5 400.0L203.0 329.9L203.5 400.0L204.0 367.4L204.5 343.2L205.0 400.0L205.5 335.4L206.0 341.7L206.5 400.0L207.0 346.1L207.5 323.8L208.0 351.7L208.5 350.0L209.0 400.0L209.5 357.4L210.0 400.0L210.5 400.0L211.0 325.5L211.5 335.7L212.0 341.7L212.5 335.3L213.0 328.8L213.5 342.6L214.0 327.6L214.5 335.7L215.0 355.5L215.5 329.9L216.0 400.0L216.5 400.0L217.0 351.1L217.5 400.0L218.0 400.0L218.5 400.0L219.0 400.0L219.5 324.2L220.0 341.9L220.5 384.4L221.0 333.2L221.5 400.0L222.0 337.9L222.5 348.3L223.0 330.6L223.5 400.0L224.0 339.6L224.5 358.0L225.0 400.0L225.5 335.7L226.0 400.0L226.5 330.6L227.0 344.2L227.5 340.7L228.0 361.0L228.5 337.6L229.0 400.0L229.5 361.4L230.0 400.0L230.5 350.5L231.0 381.4L231.5 342.1L232.0 400.0L232.5 329.0L233.0 326.2L233.5 400.0L234.0 372.6L234.5 350.3L235.0 333.6L235.5 328.6L236.0 400.0L236.5 400.0L237.0 400.0L237.5 400.0L238.0 400.0L238.5 347.9L239.0 400.0L239.5 331.5L240.0 337.5L240.5 400.0L241.0 400.0L241.5 400.0L242.0 332.3L242.5 400.0L243.0 400.0L243.5 382.2L244.0 347.5L244.5 400.0L245.0 330.5L245.5 352.0L246.0 345.4L246.5 400.0L247.0 378.7L247.5 400.0L248.0 400.0L248.5 350.2L249.0 400.0L249.5 375.6L250.0 400.0L250.5 327.8L251.0 348.9L251.5 338.1L252.0 337.3L252.5 400.0L253.0 400.0L253.5 400.0L254.0 337.6L254.5 360.0L255.0 339.2L255.5 337.1L256.0 400.0L256.5 350.2L257.0 328.1L257.5 400.0L258.0 400.0L258.5 400.0L259.0 400.0L259.5 346.3L260.0 400.0L260.5 360.0L261.0 400.0L261.5 338.2L262.0 330.7L262.5 333.2L263.0 400.0L263.5 349.1L264.0 400.0L264.5 350.3L265.0 390.8L265.5 400.0L266.0 348.3L266.5 356.9L267.0 337.0L267.5 357.5L268.0 352.1L268.5 400.0L269.0 400.0L269.5 400.0L270.0 349.8L270.5 370.8L271.0 331.4L271.5 400.0L272.0 400.0L272.5 351.3L273.0 400.0L273.5 344.3L274.0 400.0L274.5 332.0L275.0 400.0L275.5 334.9L276.0 375.9L276.5 331.4L277.0 400.0L277.5 343.9L278.0 400.0L278.5 352.2L279.0 334.1L279.5 400.0L280.0 400.0L280.5 400.0L281.0 351.3L281.5 400.0L282.0 359.5L282.5 400.0L283.0 400.0L283.5 400.0L284.0 347.2L284.5 400.0L285.0 400.0L285.5 379.2L286.0 400.0L286.5 400.0L287.0 400.0L287.5 360.4L288.0 335.1L288.5 327.5L289.0 340.9L289.5 360.8L290.0 400.0L290.5 360.0L291.0 339.1L291.5 333.3L292.0 400.0L292.5 352.0L293.0 338.6L293.5 328.6L294.0 351.2L294.5 400.0L295.0 400.0L295.5 400.0L296.0 400.0L296.5 338.4L297.0 335.3L297.5 339.9L298.0 334.0L298.5 400.0L299.0 347.1L299.5 400.0L300.0 364.0L300.5 333.7L301.0 375.6L301.5 400.0L302.0 400.0L302.5 400.0L303.0 400.0L303.5 400.0L304.0 336.6L304.5 326.4L305.0 358.9L305.5 329.4L306.0 326.4L306.5 341.1L307.0 324.5L307.5 320.3L308.0 317.3L308.5 321.5L309.0 318.1L309.5 315.3L310.0 315.0L310.5 314.1L311.0 318.0L311.5 314.2L312.0 316.2L312.5 320.0L313.0 316.1L313.5 318.0L314.0 316.6L314.5 317.6L315.0 316.2L315.5 318.8L316.0 321.5L316.5 321.1L317.0 324.6L317.5 328.5L318.0 325.5L318.5 331.9L319.0 333.7L319.5 331.9L320.0 331.5L320.5 325.1L321.0 318.2L321.5 319.7L322.0 315.8L322.5 314.5L323.0 311.7L323.5 308.1L324.0 306.6L324.5 305.7L325.0 303.7L325.5 302.5L326.0 301.2L326.5 300.0L327.0 299.0L327.5 297.8L328.0 297.0L328.5 296.6L329.0 296.4L329.5 296.6L330.0 296.4L330.5 296.8L331.0 296.7L331.5 297.2L332.0 297.7L332.5 298.7L333.0 299.9L333.5 299.9L334.0 300.8L334.5 302.9L335.0 303.5L335.5 304.3L336.0 306.8L336.5 306.7L337.0 309.6L337.5 311.9L338.0 311.7L338.5 314.4L339.0 317.6L339.5 317.6L340.0 324.8L340.5 317.5L341.0 315.3L341.5 309.1L342.0 304.8L342.5 300.1L343.0 296.1L343.5 293.0L344.0 289.5L344.5 286.9L345.0 284.4L345.5 282.2L346.0 280.5L346.5 279.0L347.0 277.6L347.5 276.7L348.0 275.9L348.5 275.5L349.0 275.2L349.5 275.1L350.0 275.0L350.5 275.0L351.0 275.2L351.5 275.7L352.0 276.2L352.5 277.3L353.0 278.5L353.5 280.0L354.0 281.8L354.5 284.3L355.0 287.2L355.5 290.2L356.0 293.8L356.5 297.8L357.0 302.8L357.5 308.2L358.0 313.2L358.5 318.8L359.0 322.5L359.5 319.7L360.0 315.3L360.5 306.4L361.0 298.0L361.5 290.3L362.0 282.9L362.5 275.9L363.0 269.3L363.5 263.0L364.0 257.1L364.5 251.6L365.0 246.5L365.5 241.7L366.0 237.3L366.5 233.2L367.0 229.6L367.5 226.3L368.0 223.3L368.5 220.8L369.0 218.6L369.5 216.8L370.0 215.3L370.5 214.3L371.0 213.6L371.5 213.2L372.0 213.3L372.5 214.1L373.0 215.4L373.5 217.5L374.0 220.2L374.5 223.6L375.0 227.7L375.5 232.4L376.0 237.8L376.5 243.8L377.0 250.5L377.5 257.9L378.0 265.9L378.5 274.7L379.0 284.0L379.5 274.3L380.0 265.3L380.5 256.8L381.0 248.9L381.5 241.6L382.0 234.8L382.5 228.5L383.0 222.8L383.5 217.6L384.0 212.9L384.5 208.6L385.0 204.8L385.5 201.5L386.0 198.6L386.5 196.1L387.0 194.0L387.5 192.2L388.0 190.8L388.5 189.7L389.0 189.0L389.5 188.4L390.0 188.1L390.5 188.0L391.0 188.0L391.5 188.1L392.0 188.6L392.5 189.3L393.0 190.4L393.5 192.0L394.0 194.1L394.5 196.7L395.0 199.9L395.5 203.7L396.0 208.1L396.5 213.2L397.0 219.0L397.5 225.5L398.0 232.7L398.5 240.7L399.0 249.5L399.5 259.1L400.0 269.4L400.5 259.5L401.0 250.2L401.5 241.6L402.0 233.7L402.5 226.4L403.0 219.8L403.5 213.7L404.0 208.3L404.5 203.4L405.0 199.1L405.5 195.3L406.0 192.0L406.5 189.2L407.0 186.9L407.5 185.0L408.0 183.5L408.5 182.4L409.0 181.7L409.5 181.2L410.0 181.0L410.5 180.9L411.0 180.9L411.5 181.2L412.0 181.6L412.5 182.3L413.0 183.4L413.5 184.8L414.0 186.6L414.5 188.8L415.0 191.5L415.5 194.6L416.0 198.2L416.5 202.3L417.0 206.9L417.5 212.1L418.0 217.8L418.5 224.2L419.0 231.1L419.5 238.6L420.0 246.8L420.5 255.6L421.0 265.1L421.5 270.6L422.0 258.4L422.5 247.3L423.0 237.4L423.5 228.6L424.0 220.8L424.5 214.1L425.0 208.3L425.5 203.4L426.0 199.4L426.5 196.2L427.0 193.7L427.5 192.0L428.0 190.8L428.5 190.2L429.0 190.0L429.5 190.0L430.0 190.2L430.5 190.6L431.0 191.4L431.5 192.6L432.0 194.2L432.5 196.2L433.0 198.8L433.5 201.9L434.0 205.6L434.5 209.9L435.0 214.8L435.5 220.4L436.0 226.6L436.5 233.6L437.0 241.2L437.5 249.7L438.0 258.8L438.5 268.8L439.0 274.9L439.5 263.0L440.0 252.3L440.5 242.6L441.0 233.9L441.5 226.3L442.0 219.6L442.5 213.8L443.0 208.9L443.5 204.9L444.0 201.6L444.5 199.0L445.0 197.1L445.5 195.9L446.0 195.1L446.5 194.8L447.0 194.7L447.5 194.8L448.0 195.2L448.5 196.0L449.0 197.3L449.5 199.1L450.0 201.5L450.5 204.5L451.0 208.2L451.5 212.6L452.0 217.8L452.5 223.7L453.0 230.5L453.5 238.1L454.0 246.6L454.5 256.1L455.0 266.4L455.5 277.7L456.0 290.2L456.5 303.9L457.0 319.5L457.5 332.3L458.0 337.7L458.5 344.7L459.0 347.0L459.5 400.0L460.0 353.0L460.5 400.0L461.0 331.8L461.5 351.5L462.0 400.0L462.5 400.0L463.0 334.2L463.5 400.0L464.0 400.0L464.5 347.0L465.0 400.0L465.5 338.5L466.0 333.7L466.5 400.0L467.0 337.9L467.5 400.0L468.0 400.0L468.5 350.3L469.0 350.5L469.5 400.0L470.0 340.8L470.5 400.0L471.0 400.0L471.5 400.0L472.0 341.8L472.5 341.3L473.0 343.0L473.5 400.0L474.0 353.3L474.5 346.1L475.0 400.0L475.5 400.0L476.0 343.3L476.5 342.5L477.0 350.1L477.5 344.8L478.0 348.6L478.5 352.8L479.0 363.9L479.5 400.0L480.0 380.0L480.5 400.0L481.0 330.2L481.5 350.0L482.0 358.6L482.5 377.2L483.0 364.3L483.5 388.7L484.0 344.8L484.5 359.4L485.0 341.3L485.5 400.0L486.0 348.2L486.5 340.5L487.0 400.0L487.5 352.4L488.0 350.4L488.5 400.0L489.0 400.0L489.5 400.0L490.0 337.9L490.5 400.0L491.0 400.0L491.5 343.2L492.0 400.0L492.5 339.6L493.0 346.6L493.5 344.0L494.0 368.3L494.5 400.0L495.0 400.0L495.5 335.4L496.0 400.0L496.5 400.0L497.0 334.5L497.5 400.0L498.0 378.5L498.5 378.3L499.0 366.1L499.5 400.0L500.0 400.0L500.5 336.8L501.0 341.9L501.5 400.0L502.0 400.0L502.5 348.6L503.0 364.3L503.5 400.0L504.0 338.9L504.5 400.0L505.0 337.5L505.5 353.6L506.0 344.9L506.5 350.4L507.0 341.0L507.5 381.4L508.0 400.0L508.5 341.7L509.0 352.3L509.5 400.0L510.0 336.3L510.5 337.5L511.0 335.6L511.5 355.2L512.0 348.3L512.5 400.0L513.0 400.0L513.5 355.7L514.0 352.3L514.5 400.0L515.0 333.1L515.5 400.0L516.0 400.0L516.5 400.0L517.0 336.8L517.5 383.2L518.0 400.0L518.5 400.0L519.0 400.0L519.5 400.0L520.0 339.3L520.5 344.1L521.0 339.6L521.5 400.0L522.0 329.5L522.5 400.0L523.0 400.0L523.5 400.0L524.0 353.5L524.5 342.1L525.0 400.0L525.5 344.3L526.0 333.9L526.5 400.0L527.0 400.0L527.5 400.0L528.0 350.8L528.5 341.0L529.0 342.0L529.5 341.3L530.0 335.9L530.5 353.8L531.0 340.0L531.5 400.0L532.0 400.0L532.5 350.8L533.0 400.0L533.5 344.7L534.0 336.3L534.5 347.4L535.0 400.0L535.5 400.0L536.0 336.4L536.5 400.0L537.0 355.1L537.5 384.0L538.0 356.3L538.5 338.6L539.0 400.0L539.5 400.0L540.0 335.7L540.5 351.3L541.0 342.6L541.5 359.3L542.0 342.0L542.5 337.2L543.0 336.4L543.5 389.7L544.0 400.0L544.5 347.7L545.0 351.7L545.5 344.8L546.0 400.0L546.5 400.0L547.0 346.7L547.5 342.0L548.0 343.8L548.5 334.3L549.0 341.2L549.5 400.0L550.0 339.8L550.5 362.8L551.0 337.3L551.5 351.0L552.0 346.7L552.5 351.3L553.0 356.4L553.5 400.0L554.0 356.3L554.5 400.0L555.0 346.0L555.5 339.8L556.0 332.0L556.5 348.1L557.0 400.0L557.5 400.0L558.0 332.6L558.5 400.0L559.0 340.8L559.5 400.0L560.0 361.0L560.5 343.3L561.0 349.1L561.5 360.5L562.0 400.0L562.5 400.0L563.0 339.6L563.5 347.0L564.0 368.5L564.5 351.9L565.0 400.0L565.5 339.5L566.0 337.4L566.5 400.0L567.0 354.8L567.5 339.3L568.0 400.0L568.5 332.2L569.0 335.5L569.5 392.8L570.0 340.0L570.5 334.5L571.0 400.0L571.5 344.2L572.0 367.1L572.5 375.1L573.0 343.0L573.5 400.0L574.0 400.0L574.5 400.0L575.0 359.5L575.5 344.1L576.0 359.7L576.5 367.8L577.0 360.1L577.5 337.2L578.0 345.6L578.5 400.0L579.0 400.0L579.5 337.9L580.0 400.0L580.5 400.0L581.0 359.8L581.5 400.0L582.0 340.8L582.5 400.0L583.0 336.0L583.5 400.0L584.0 400.0L584.5 350.2L585.0 400.0L585.5 345.5L586.0 342.3L586.5 400.0L587.0 400.0L587.5 340.4L588.0 400.0L588.5 357.8L589.0 348.8L589.5 335.3L590.0 400.0L590.5 357.4L591.0 338.6L591.5 400.0L592.0 388.0L592.5 400.0L593.0 400.0L593.5 332.8L594.0 351.9L594.5 335.8L595.0 379.8L595.5 345.5L596.0 400.0L596.5 400.0L597.0 362.5L597.5 354.2L598.0 335.5L598.5 372.6L599.0 348.3L599.5 383.8L600.0 353.8L600.5 400.0L601.0 339.1L601.5 400.0L602.0 357.2L602.5 374.9L603.0 340.1L603.5 345.9L604.0 358.3L604.5 352.9L605.0 349.0L605.5 342.7L606.0 346.1L606.5 337.4L607.0 335.0L607.5 344.5L608.0 400.0L608.5 334.2L609.0 331.8L609.5 400.0L610.0 400.0L610.5 400.0L611.0 342.4L611.5 400.0L612.0 333.7L612.5 400.0L613.0 356.1L613.5 343.7L614.0 400.0L614.5 400.0L615.0 351.1L615.5 400.0L616.0 400.0L616.5 360.7L617.0 400.0L617.5 377.3L618.0 342.4L618.5 400.0L619.0 353.3L619.5 400.0L620.0 341.0L620.5 400.0L621.0 340.5L621.5 400.0L622.0 400.0L622.5 400.0L623.0 340.0L623.5 350.7L624.0 400.0L624.5 400.0L625.0 337.1L625.5 362.3L626.0 345.6L626.5 400.0L627.0 400.0L627.5 345.5L628.0 331.3L628.5 400.0L629.0 345.3L629.5 400.0L630.0 338.1L630.5 400.0L631.0 400.0L631.5 400.0L632.0 400.0L632.5 353.6L633.0 337.1L633.5 400.0L634.0 340.7L634.5 400.0L635.0 400.0L635.5 400.0L636.0 400.0L636.5 400.0L637.0 335.4L637.5 400.0L638.0 400.0L638.5 339.6L639.0 400.0L639.5 348.2L640.0 400.0L640.5 354.3L641.0 342.2L641.5 374.0L642.0 382.2L642.5 343.9L643.0 345.2L643.5 400.0L644.0 380.1L644.5 400.0L645.0 338.1L645.5 400.0L646.0 354.4L646.5 334.7L647.0 342.9L647.5 400.0L648.0 400.0L648.5 400.0" stroke="#d62728"/>
<path d="M90.5 309.0L91.0 308.9L91.5 308.9L92.0 308.9L92.5 308.9L93.0 309.1L93.5 309.2L94.0 309.4L94.5 309.6L95.0 309.7L95.5 309.8L96.0 309.7L96.5 309.7L97.0 309.6L97.5 309.4L98.0 309.3L98.5 309.3L99.0 309.3L99.5 309.3L100.0 309.4L100.5 309.4L101.0 309.5L101.5 309.5L102.0 309.5L102.5 309.6L103.0 309.6L103.5 309.7L104.0 309.6L104.5 309.6L105.0 309.4L105.5 309.3L106.0 309.1L106.5 308.9L107.0 308.8L107.5 308.8L108.0 308.9L108.5 309.0L109.0 309.2L109.5 309.3L110.0 309.3L110.5 309.3L111.0 309.2L111.5 309.2L112.0 309.1L112.5 309.1L113.0 309.1L113.5 309.1L114.0 309.1L114.5 309.0L115.0 309.0L115.5 308.9L116.0 308.7L116.5 308.6L117.0 308.6L117.5 308.6L118.0 308.8L118.5 309.0L119.0 309.2L119.5 309.4L120.0 309.5L120.5 309.5L121.0 309.5L121.5 309.4L122.0 309.3L122.5 309.3L123.0 309.3L123.5 309.3L124.0 309.3L124.5 309.3L125.0 309.3L125.5 309.2L126.0 309.2L126.5 309.1L127.0 309.0L127.5 309.0L128.0 308.9L128.5 308.8L129.0 308.8L129.5 308.8L130.0 308.9L130.5 308.9L131.0 309.0L131.5 309.0L132.0 308.9L132.5 308.7L133.0 308.5L133.5 308.4L134.0 308.3L134.5 308.3L135.0 308.4L135.5 308.6L136.0 308.8L136.5 309.0L137.0 309.0L137.5 309.0L138.0 308.9L138.5 308.9L139.0 308.8L139.5 308.8L140.0 308.8L140.5 308.8L141.0 308.8L141.5 308.8L142.0 308.8L142.5 308.8L143.0 308.7L143.5 308.7L144.0 308.6L144.5 308.6L145.0 308.6L145.5 308.6L146.0 308.6L146.5 308.6L147.0 308.6L147.5 308.6L148.0 308.6L148.5 308.6L149.0 308.7L149.5 308.8L150.0 308.9L150.5 308.9L151.0 309.0L151.5 309.0L152.0 309.0L152.5 309.0L153.0 308.9L153.5 308.8L154.0 308.8L154.5 308.8L155.0 308.8L155.5 308.9L156.0 308.9L156.5 309.0L157.0 309.0L157.5 309.0L158.0 309.0L158.5 309.0L159.0 309.0L159.5 309.0L160.0 309.0L160.5 309.0L161.0 308.8L161.5 308.6L162.0 308.3L162.5 308.0L163.0 307.7L163.5 307.6L164.0 307.6L164.5 307.7L165.0 307.9L165.5 308.1L166.0 308.3L166.5 308.5L167.0 308.6L167.5 308.6L168.0 308.7L168.5 308.7L169.0 308.7L169.5 308.7L170.0 308.7L170.5 308.7L171.0 308.8L171.5 308.8L172.0 308.9L172.5 308.9L173.0 308.9L173.5 309.0L174.0 309.0L174.5 309.1L175.0 309.2L175.5 309.2L176.0 309.3L176.5 309.3L177.0 309.2L177.5 309.0L178.0 308.8L178.5 308.5L179.0 308.2L179.5 308.0L180.0 307.9L180.5 307.9L181.0 308.0L181.5 308.3L182.0 308.5L182.5 308.8L183.0 309.1L183.5 309.2L184.0 309.2L184.5 309.0L185.0 308.9L185.5 308.7L186.0 308.5L186.5 308.4L187.0 308.4L187.5 308.5L188.0 308.6L188.5 308.8L189.0 308.9L189.5 309.0L190.0 309.0L190.5 308.9L191.0 308.9L191.5 308.8L192.0 308.7L192.5 308.5L193.0 308.4L193.5 308.3L194.0 308.3L194.5 308.3L195.0 308.3L195.5 308.3L196.0 308.3L196.5 308.4L197.0 308.4L197.5 308.4L198.0 308.4L198.5 308.2L199.0 308.1L199.5 307.9L200.0 307.8L200.5 307.8L201.0 307.9L201.5 308.0L202.0 308.2L202.5 308.4L203.0 308.5L203.5 308.6L204.0 308.6L204.5 308.5L205.0 308.3L205.5 308.1L206.0 308.0L206.5 307.9L207.0 307.8L207.5 307.8L208.0 307.7L208.5 307.7L209.0 307.6L209.5 307.5L210.0 307.4L210.5 307.3L211.0 307.2L211.5 307.2L212.0 307.3L212.5 307.3L213.0 307.4L213.5 307.4L214.0 307.4L214.5 307.4L215.0 307.4L215.5 307.5L216.0 307.6L216.5 307.8L217.0 307.9L217.5 308.1L218.0 308.3L218.5 308.4L219.0 308.4L219.5 308.4L220.0 308.4L220.5 308.3L221.0 308.2L221.5 308.0L222.0 307.8L222.5 307.7L223.0 307.5L223.5 307.3L224.0 307.2L224.5 307.2L225.0 307.2L225.5 307.2L226.0 307.3L226.5 307.5L227.0 307.7L227.5 307.9L228.0 308.1L228.5 308.2L229.0 308.2L229.5 308.2L230.0 308.2L230.5 308.1L231.0 308.0L231.5 308.0L232.0 307.9L232.5 307.8L233.0 307.7L233.5 307.6L234.0 307.6L234.5 307.6L235.0 307.6L235.5 307.8L236.0 308.0L236.5 308.2L237.0 308.3L237.5 308.3L238.0 308.3L238.5 308.1L239.0 307.9L239.5 307.7L240.0 307.6L240.5 307.5L241.0 307.4L241.5 307.4L242.0 307.4L242.5 307.4L243.0 307.4L243.5 307.4L244.0 307.5L244.5 307.7L245.0 307.9L245.5 308.1L246.0 308.2L246.5 308.1L247.0 307.9L247.5 307.7L248.0 307.4L248.5 307.2L249.0 307.1L249.5 307.0L250.0 307.1L250.5 307.1L251.0 307.3L251.5 307.4L252.0 307.5L252.5 307.5L253.0 307.6L253.5 307.6L254.0 307.5L254.5 307.4L255.0 307.3L255.5 307.2L256.0 307.1L256.5 307.1L257.0 307.1L257.5 307.2L258.0 307.2L258.5 307.2L259.0 307.2L259.5 307.1L260.0 307.0L260.5 306.9L261.0 306.8L261.5 306.8L262.0 306.8L262.5 306.9L263.0 307.0L263.5 307.2L264.0 307.3L264.5 307.4L265.0 307.5L265.5 307.5L266.0 307.5L266.5 307.3L267.0 307.2L267.5 307.0L268.0 306.8L268.5 306.6L269.0 306.5L269.5 306.5L270.0 306.6L270.5 306.8L271.0 306.9L271.5 307.1L272.0 307.3L272.5 307.4L273.0 307.4L273.5 307.3L274.0 307.2L274.5 307.1L275.0 306.9L275.5 306.8L276.0 306.7L276.5 306.6L277.0 306.5L277.5 306.4L278.0 306.3L278.5 306.3L279.0 306.2L279.5 306.2L280.0 306.3L280.5 306.4L281.0 306.5L281.5 306.6L282.0 306.7L282.5 306.7L283.0 306.8L283.5 306.9L284.0 306.9L284.5 306.9L285.0 306.9L285.5 307.0L286.0 307.1L286.5 307.2L287.0 307.3L287.5 307.4L288.0 307.5L288.5 307.5L289.0 307.5L289.5 307.5L290.0 307.4L290.5 307.3L291.0 307.1L291.5 306.9L292.0 306.8L292.5 306.7L293.0 306.7L293.5 306.8L294.0 307.0L294.5 307.3L295.0 307.6L295.5 307.8L296.0 308.0L296.5 308.0L297.0 307.8L297.5 307.6L298.0 307.4L298.5 307.2L299.0 307.1L299.5 307.0L300.0 306.9L300.5 306.9L301.0 306.8L301.5 306.6L302.0 306.4L302.5 306.2L303.0 306.1L303.5 306.0L304.0 305.9L304.5 305.9L305.0 306.0L305.5 306.1L306.0 306.2L306.5 306.2L307.0 306.1L307.5 306.1L308.0 306.1L308.5 306.1L309.0 306.2L309.5 306.2L310.0 306.3L310.5 306.5L311.0 306.6L311.5 306.6L312.0 306.5L312.5 306.3L313.0 306.1L313.5 305.9L314.0 305.8L314.5 305.7L315.0 305.7L315.5 305.7L316.0 305.8L316.5 305.9L317.0 305.9L317.5 305.9L318.0 306.0L318.5 306.0L319.0 306.0L319.5 305.9L320.0 305.9L320.5 305.9L321.0 305.8L321.5 305.7L322.0 305.5L322.5 305.4L323.0 305.3L323.5 305.2L324.0 305.1L324.5 305.1L325.0 305.0L325.5 305.0L326.0 304.9L326.5 304.9L327.0 304.9L327.5 305.0L328.0 305.0L328.5 305.1L329.0 305.2L329.5 305.2L330.0 305.3L330.5 305.4L331.0 305.5L331.5 305.5L332.0 305.6L332.5 305.7L333.0 305.8L333.5 306.0L334.0 306.1L334.5 306.3L335.0 306.4L335.5 306.4L336.0 305.8L336.5 305.6L337.0 305.3L337.5 304.9L338.0 304.5L338.5 304.1L339.0 303.7L339.5 303.2L340.0 302.8L340.5 302.3L341.0 301.9L341.5 301.4L342.0 300.9L342.5 300.5L343.0 300.2L343.5 299.9L344.0 299.7L344.5 299.6L345.0 299.6L345.5 299.7L346.0 299.8L346.5 300.0L347.0 300.2L347.5 300.5L348.0 300.8L348.5 301.1L349.0 301.3L349.5 301.5L350.0 301.6L350.5 301.6L351.0 301.7L351.5 301.7L352.0 301.9L352.5 302.1L353.0 302.4L353.5 302.6L354.0 302.9L354.5 302.7L355.0 302.3L355.5 301.9L356.0 301.2L356.5 300.3L357.0 299.2L357.5 297.9L358.0 296.5L358.5 294.9L359.0 293.2L359.5 291.5L360.0 289.9L360.5 288.3L361.0 286.8L361.5 285.5L362.0 284.3L362.5 283.4L363.0 282.6L363.5 282.1L364.0 281.8L364.5 281.8L365.0 282.0L365.5 282.5L366.0 283.3L366.5 284.4L367.0 285.6L367.5 287.0L368.0 288.5L368.5 290.0L369.0 291.4L369.5 292.8L370.0 294.0L370.5 295.1L371.0 296.1L371.5 296.9L372.0 297.6L372.5 298.0L373.0 298.4L373.5 298.7L374.0 298.9L374.5 298.5L375.0 297.8L375.5 296.6L376.0 294.9L376.5 292.5L377.0 289.5L377.5 286.1L378.0 282.4L378.5 278.7L379.0 275.2L379.5 271.9L380.0 268.8L380.5 266.1L381.0 263.6L381.5 261.5L382.0 259.8L382.5 258.5L383.0 257.5L383.5 257.1L384.0 257.0L384.5 257.4L385.0 258.3L385.5 259.7L386.0 261.4L386.5 263.6L387.0 266.1L387.5 268.9L388.0 272.0L388.5 275.3L389.0 278.7L389.5 282.1L390.0 285.4L390.5 288.3L391.0 290.8L391.5 292.7L392.0 293.9L392.5 294.7L393.0 295.2L393.5 295.2L394.0 294.1L394.5 291.6L395.0 287.1L395.5 280.4L396.0 272.4L396.5 263.8L397.0 255.3L397.5 247.3L398.0 239.7L398.5 232.7L399.0 226.4L399.5 220.6L400.0 215.4L400.5 210.7L401.0 206.7L401.5 203.2L402.0 200.4L402.5 198.2L403.0 196.7L403.5 195.7L404.0 195.4L404.5 195.6L405.0 196.2L405.5 197.3L406.0 198.8L406.5 200.7L407.0 203.2L407.5 206.1L408.0 209.5L408.5 213.4L409.0 217.8L409.5 222.7L410.0 228.1L410.5 234.0L411.0 240.4L411.5 247.5L412.0 255.2L412.5 263.4L413.0 272.0L413.5 280.8L414.0 285.5L414.5 273.5L415.0 261.6L415.5 250.2L416.0 239.6L416.5 229.9L417.0 221.0L417.5 213.0L418.0 205.9L418.5 199.5L419.0 193.9L419.5 189.1L420.0 185.0L420.5 181.7L421.0 179.0L421.5 176.9L422.0 175.3L422.5 174.3L423.0 173.7L423.5 173.5L424.0 173.5L424.5 173.6L425.0 173.8L425.5 174.2L426.0 174.9L426.5 175.8L427.0 177.2L427.5 178.9L428.0 181.2L428.5 184.0L429.0 187.5L429.5 191.5L430.0 196.1L430.5 201.4L431.0 207.2L431.5 213.7L432.0 220.9L432.5 228.8L433.0 237.4L433.5 246.7L434.0 256.8L434.5 258.5L435.0 247.3L435.5 236.7L436.0 227.0L436.5 218.1L437.0 209.9L437.5 202.6L438.0 196.0L438.5 190.2L439.0 185.1L439.5 180.8L440.0 177.0L440.5 173.8L441.0 171.1L441.5 168.8L442.0 167.1L442.5 165.7L443.0 164.8L443.5 164.2L444.0 164.0L444.5 163.9L445.0 163.9L445.5 164.1L446.0 164.6L446.5 165.4L447.0 166.7L447.5 168.5L448.0 170.8L448.5 173.5L449.0 176.8L449.5 180.5L450.0 184.7L450.5 189.4L451.0 194.7L451.5 200.6L452.0 207.2L452.5 214.4L453.0 222.4L453.5 231.0L454.0 240.2L454.5 250.1L455.0 260.7L455.5 267.3L456.0 255.7L456.5 244.8L457.0 234.6L457.5 225.2L458.0 216.6L458.5 208.7L459.0 201.6L459.5 195.2L460.0 189.5L460.5 184.6L461.0 180.4L461.5 177.0L462.0 174.3L462.5 172.1L463.0 170.5L463.5 169.5L464.0 168.8L464.5 168.5L465.0 168.5L465.5 169.1L466.0 170.1L466.5 171.7L467.0 173.9L467.5 176.8L468.0 180.4L468.5 184.7L469.0 189.5L469.5 195.1L470.0 201.2L470.5 208.0L471.0 215.4L471.5 223.4L472.0 232.1L472.5 241.3L473.0 251.1L473.5 253.6L474.0 244.7L474.5 236.4L475.0 228.6L475.5 221.4L476.0 215.0L476.5 209.1L477.0 204.0L477.5 199.6L478.0 195.9L478.5 192.8L479.0 190.3L479.5 188.4L480.0 186.9L480.5 185.9L481.0 185.4L481.5 185.2L482.0 185.3L482.5 185.9L483.0 187.0L483.5 188.8L484.0 191.2L484.5 194.4L485.0 198.3L485.5 203.1L486.0 208.7L486.5 215.2L487.0 222.6L487.5 230.8L488.0 239.8L488.5 249.5L489.0 259.8L489.5 270.4L490.0 280.8L490.5 289.6L491.0 295.6L491.5 298.5L492.0 299.6L492.5 300.1L493.0 300.6L493.5 301.2L494.0 301.8L494.5 302.5L495.0 303.2L495.5 303.6L496.0 304.0L496.5 304.3L497.0 304.5L497.5 304.7L498.0 304.9L498.5 305.1L499.0 305.3L499.5 305.5L500.0 305.7L500.5 305.9L501.0 306.0L501.5 306.1L502.0 306.2L502.5 306.4L503.0 306.6L503.5 306.9L504.0 307.1L504.5 307.3L505.0 307.4L505.5 307.4L506.0 307.4L506.5 307.3L507.0 307.2L507.5 307.1L508.0 307.2L508.5 307.3L509.0 307.5L509.5 307.7L510.0 307.9L510.5 308.0L511.0 308.2L511.5 308.2L512.0 308.3L512.5 308.3L513.0 308.2L513.5 308.1L514.0 308.1L514.5 308.0L515.0 308.0L515.5 308.1L516.0 308.2L516.5 308.4L517.0 308.5L517.5 308.6L518.0 308.6L518.5 308.7L519.0 308.7L519.5 308.8L520.0 308.8L520.5 309.0L521.0 309.1L521.5 309.2L522.0 309.3L522.5 309.2L523.0 309.1L523.5 309.0L524.0 309.0L524.5 309.1L525.0 309.2L525.5 309.4L526.0 309.6L526.5 309.8L527.0 310.0L527.5 310.0L528.0 309.9L528.5 309.7L529.0 309.5L529.5 309.4L530.0 309.3L530.5 309.2L531.0 309.2L531.5 309.2L532.0 309.3L532.5 309.4L533.0 309.4L533.5 309.4L534.0 309.4L534.5 309.4L535.0 309.4L535.5 309.4L536.0 309.4L536.5 309.3L537.0 309.3L537.5 309.3L538.0 309.2L538.5 309.2L539.0 309.2L539.5 309.3L540.0 309.3L540.5 309.4L541.0 309.4L541.5 309.3L542.0 309.1L542.5 308.9L543.0 308.7L543.5 308.6L544.0 308.5L544.5 308.6L545.0 308.8L545.5 309.0L546.0 309.2L546.5 309.4L547.0 309.5L547.5 309.6L548.0 309.6L548.5 309.5L549.0 309.5L549.5 309.4L550.0 309.4L550.5 309.4L551.0 309.5L551.5 309.5L552.0 309.6L552.5 309.7L553.0 309.8L553.5 309.8L554.0 309.7L554.5 309.7L555.0 309.6L555.5 309.6L556.0 309.5L556.5 309.5L557.0 309.5L557.5 309.4L558.0 309.4L558.5 309.3L559.0 309.2L559.5 309.2L560.0 309.2L560.5 309.2L561.0 309.3L561.5 309.4L562.0 309.5L562.5 309.7L563.0 309.9L563.5 310.0L564.0 310.0L564.5 310.0L565.0 310.0L565.5 310.0L566.0 309.9L566.5 309.8L567.0 309.8L567.5 309.8L568.0 309.9L568.5 310.0L569.0 310.1L569.5 310.2L570.0 310.3L570.5 310.4L571.0 310.5L571.5 310.5L572.0 310.6L572.5 310.6L573.0 310.5L573.5 310.5L574.0 310.4L574.5 310.3L575.0 310.3L575.5 310.2L576.0 310.3L576.5 310.3L577.0 310.4L577.5 310.4L578.0 310.4L578.5 310.4L579.0 310.3L579.5 310.2L580.0 310.2L580.5 310.1L581.0 310.0L581.5 309.9L582.0 309.9L582.5 309.8L583.0 309.8L583.5 309.8L584.0 309.7L584.5 309.8L585.0 309.9L585.5 310.0L586.0 310.1L586.5 310.2L587.0 310.3L587.5 310.3L588.0 310.3L588.5 310.3L589.0 310.3L589.5 310.4L590.0 310.5L590.5 310.6L591.0 310.8L591.5 310.9L592.0 311.0L592.5 311.0L593.0 310.9L593.5 310.8L594.0 310.8L594.5 310.7L595.0 310.7L595.5 310.6L596.0 310.5L596.5 310.5L597.0 310.5L597.5 310.5L598.0 310.5L598.5 310.4L599.0 310.4L599.5 310.4L600.0 310.4L600.5 310.5L601.0 310.6L601.5 310.6L602.0 310.7L602.5 310.7L603.0 310.7L603.5 310.7L604.0 310.7L604.5 310.6L605.0 310.6L605.5 310.5L606.0 310.5L606.5 310.5L607.0 310.5L607.5 310.4L608.0 310.4L608.5 310.4L609.0 310.4L609.5 310.4L610.0 310.4L610.5 310.3L611.0 310.3L611.5 310.2L612.0 310.2L612.5 310.3L613.0 310.4L613.5 310.5L614.0 310.6L614.5 310.7L615.0 310.8L615.5 310.9L616.0 311.0L616.5 311.1L617.0 311.2L617.5 311.3L618.0 311.3L618.5 311.4L619.0 311.4L619.5 311.4L620.0 311.4L620.5 311.4L621.0 311.3L621.5 311.3L622.0 311.2L622.5 311.2L623.0 311.1L623.5 311.1L624.0 311.1L624.5 311.0L625.0 310.9L625.5 310.8L626.0 310.7L626.5 310.6L627.0 310.7L627.5 310.8L628.0 310.9L628.5 311.1L629.0 311.2L629.5 311.3L630.0 311.3L630.5 311.3L631.0 311.3L631.5 311.1L632.0 311.0L632.5 310.9L633.0 310.9L633.5 310.8L634.0 310.7L634.5 310.7L635.0 310.6L635.5 310.7L636.0 310.8L636.5 311.0L637.0 311.2L637.5 311.5L638.0 311.7L638.5 311.8L639.0 311.9L639.5 311.8L640.0 311.6L640.5 311.4L641.0 311.2L641.5 311.1L642.0 311.1L642.5 311.2L643.0 311.3L643.5 311.5L644.0 311.6L644.5 311.6L645.0 311.6L645.5 311.6L646.0 311.6L646.5 311.6L647.0 311.7L647.5 311.8L648.0 312.0L648.5 312.1" stroke="#9467bd"/>
</g>
<rect x="90.5" y="52.5" width="558.0" height="326" fill="none" stroke="#cccccc" stroke-width="1.05"/>
<text x="368.6" y="46.1" font-size="17.3" text-anchor="middle" font-family="Liberation Sans, sans-serif" fill="#262626" style="font-kerning:none">D4435 V20234 Ch. 7</text>
<text x="368.6" y="411.9" font-size="17.3" text-anchor="middle" font-family="Liberation Sans, sans-serif" fill="#262626" style="font-kerning:none">Wavelength [nm]</text>
<text transform="translate(54.3,215.3) rotate(-90)" font-size="17.3" text-anchor="middle" font-family="Liberation Sans, sans-serif" fill="#262626" style="font-kerning:none">Optical Power [dB]</text>
<text transform="translate(90.4,391.8) scale(0.94,1.07)" font-size="14.4" text-anchor="middle" stroke="#262626" stroke-width="0.25" font-family="Liberation Sans, sans-serif" fill="#262626" style="font-kerning:none">840</text>
<text transform="translate(164.8,391.8) scale(0.94,1.07)" font-size="14.4" text-anchor="middle" stroke="#262626" stroke-width="0.25" font-family="Liberation Sans, sans-serif" fill="#262626" style="font-kerning:none">842</text>
<text transform="translate(239.2,391.8) scale(0.94,1.07)" font-size="14.4" text-anchor="middle" stroke="#262626" stroke-width="0.25" font-family="Liberation Sans, sans-serif" fill="#262626" style="font-kerning:none">844</text>
<text transform="translate(313.6,391.8) scale(0.94,1.07)" font-size="14.4" text-anchor="middle" stroke="#262626" stroke-width="0.25" font-family="Liberation Sans, sans-serif" fill="#262626" style="font-kerning:none">846</text>
<text transform="translate(388.0,391.8) scale(0.94,1.07)" font-size="14.4" text-anchor="middle" stroke="#262626" stroke-width="0.25" font-family="Liberation Sans, sans-serif" fill="#262626" style="font-kerning:none">848</text>
<text transform="translate(462.4,391.8) scale(0.94,1.07)" font-size="14.4" text-anchor="middle" stroke="#262626" stroke-width="0.25" font-family="Liberation Sans, sans-serif" fill="#262626" style="font-kerning:none">850</text>
<text transform="translate(536.8,391.8) scale(0.94,1.07)" font-size="14.4" text-anchor="middle" stroke="#262626" stroke-width="0.25" font-family="Liberation Sans, sans-serif" fill="#262626" style="font-kerning:none">852</text>
<text transform="translate(611.2,391.8) scale(0.94,1.07)" font-size="14.4" text-anchor="middle" stroke="#262626" stroke-width="0.25" font-family="Liberation Sans, sans-serif" fill="#262626" style="font-kerning:none">854</text>
<text transform="translate(86.4,57.4) scale(0.94,1.07)" font-size="14.4" text-anchor="end" stroke="#262626" stroke-width="0.25" font-family="Liberation Sans, sans-serif" fill="#262626" style="font-kerning:none">20</text>
<text transform="translate(86.4,116.7) scale(0.94,1.07)" font-size="14.4" text-anchor="end" stroke="#262626" stroke-width="0.25" font-family="Liberation Sans, sans-serif" fill="#262626" style="font-kerning:none">0</text>
<text transform="translate(86.4,175.9) scale(0.94,1.07)" font-size="14.4" text-anchor="end" stroke="#262626" stroke-width="0.25" font-family="Liberation Sans, sans-serif" fill="#262626" style="font-kerning:none">−20</text>
<text transform="translate(86.4,235.2) scale(0.94,1.07)" font-size="14.4" text-anchor="end" stroke="#262626" stroke-width="0.25" font-family="Liberation Sans, sans-serif" fill="#262626" style="font-kerning:none">−40</text>
<text transform="translate(86.4,294.5) scale(0.94,1.07)" font-size="14.4" text-anchor="end" stroke="#262626" stroke-width="0.25" font-family="Liberation Sans, sans-serif" fill="#262626" style="font-kerning:none">−60</text>
<text transform="translate(86.4,353.8) scale(0.94,1.07)" font-size="14.4" text-anchor="end" stroke="#262626" stroke-width="0.25" font-family="Liberation Sans, sans-serif" fill="#262626" style="font-kerning:none">−80</text>
<rect x="97.5" y="59.5" width="148.8" height="88.6" rx="2.2" ry="2.2" fill="#fff" fill-opacity="0.8" stroke="#cccccc" stroke-opacity="0.8" stroke-width="1.2"/>
<path d="M102.5 71.00H132.5" stroke="#bcbd22" stroke-width="1.75" stroke-opacity="0.92"/>
<text x="143.2" y="75.9" font-size="14.3" font-family="Liberation Sans, sans-serif" fill="#262626" style="font-kerning:none">OptoBoard QA</text>
<path d="M102.5 92.00H132.5" stroke="#ff7f0e" stroke-width="1.75" stroke-opacity="0.92"/>
<text x="143.2" y="96.9" font-size="14.3" font-family="Liberation Sans, sans-serif" fill="#262626" style="font-kerning:none">Post Burn-In</text>
<path d="M102.5 113.00H132.5" stroke="#d62728" stroke-width="1.75" stroke-opacity="0.92"/>
<text x="143.2" y="117.9" font-size="14.3" font-family="Liberation Sans, sans-serif" fill="#262626" style="font-kerning:none">Pre Burn-In</text>
<path d="M102.5 134.00H132.5" stroke="#9467bd" stroke-width="1.75" stroke-opacity="0.92"/>
<text x="143.2" y="138.9" font-size="14.3" font-family="Liberation Sans, sans-serif" fill="#262626" style="font-kerning:none">Reception Test</text>
</svg></body></html>
